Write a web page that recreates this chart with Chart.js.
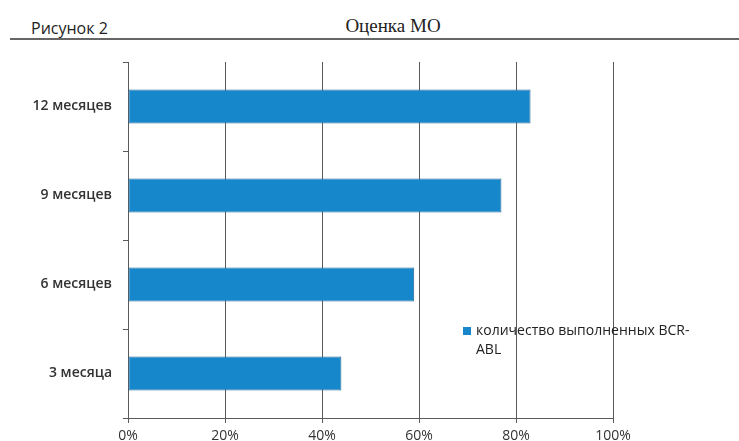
<!DOCTYPE html>
<html lang="ru">
<head>
<meta charset="utf-8">
<title>Оценка МО</title>
<script src="https://cdn.jsdelivr.net/npm/chart.js@4.4.1/dist/chart.umd.min.js"></script>
<style>
  html, body { margin: 0; padding: 0; background: #fff; }
  #wrap { position: relative; width: 739px; height: 441px; overflow: hidden; }
  #fig { position: absolute; left: 31px; top: 17px; font: 16px "Open Sans", sans-serif; color: #222; }
  #title { position: absolute; left: 0; width: 786px; top: 15px; text-align: center;
           font: 19px "Liberation Serif", serif; color: #222; }
  #rule { position: absolute; left: 10px; right: 0; top: 38px; height: 2px; background: #666; }
  canvas { position: absolute; left: 0; top: 0; }
</style>
</head>
<body>
<div id="wrap">
  <div id="fig">Рисунок 2</div>
  <div id="title">Оценка МО</div>
  <div id="rule"></div>
  <canvas id="myChart" width="739" height="441"></canvas>
</div>
<script>
'use strict';

// periods, bottom to top
const periods = ['3 месяца', '6 месяцев', '9 месяцев', '12 месяцев'];
const done = [44, 59, 77, 83];
const seriesName = 'количество выполненных BCR-ABL';
const xTicks = [0, 20, 40, 60, 80, 100];

const barColor = '#1787cc';
const lineColor = '#5a5a5a';

// legend sits inside the plot, wrapped onto two lines
const boxLegend = {
  id: 'boxLegend',
  afterDraw(chart) {
    const ctx = chart.ctx;
    const ds = chart.data.datasets[0];
    const x = 463, y = 331, maxW = 222;
    ctx.save();
    ctx.font = '14px "Open Sans", sans-serif';
    ctx.fillStyle = ds.backgroundColor;
    ctx.fillRect(x, y - 4, 8, 8);
    // break after the hyphen when the line gets too long
    let lines = [ds.label];
    if (ctx.measureText(ds.label).width > maxW) {
      const cut = ds.label.lastIndexOf('-') + 1;
      lines = [ds.label.slice(0, cut), ds.label.slice(cut)];
    }
    ctx.fillStyle = '#222';
    ctx.textBaseline = 'middle';
    lines.forEach((t, i) => ctx.fillText(t, x + 13, y + i * 19));
    ctx.restore();
  }
};

const ctx = document.getElementById('myChart').getContext('2d');
const myChart = new Chart(ctx, {
  type: 'bar',
  data: {
    labels: periods,
    datasets: [{
      label: seriesName,
      data: done,
      backgroundColor: barColor,
      borderColor: '#2a6d9c',
      borderWidth: 1,
      borderSkipped: false,
      barPercentage: 0.38,
      categoryPercentage: 1
    }]
  },
  options: {
    indexAxis: 'y',
    responsive: false,
    animation: false,
    layout: { padding: { top: 62, right: 126, bottom: 0, left: 0 } },
    plugins: {
      legend: { display: false },
      tooltip: { enabled: false }
    },
    scales: {
      x: {
        min: 0,
        max: 100,
        afterBuildTicks(scale) {
          scale.ticks = xTicks.map(v => ({ value: v }));
        },
        afterFit(scale) { scale.height = 23; },
        grid: { color: lineColor, lineWidth: 1, tickLength: 5, drawTicks: true },
        border: { color: lineColor, width: 1 },
        ticks: {
          padding: 5,
          color: '#333',
          font: { family: 'Open Sans', size: 14 },
          callback: v => v + '%'
        }
      },
      y: {
        reverse: true,
        afterFit(scale) { scale.width = 128; },
        grid: { drawOnChartArea: false, color: lineColor, tickLength: 5 },
        border: { color: lineColor, width: 1 },
        ticks: {
          padding: 11,
          color: '#333',
          font: { family: 'Open Sans', size: 14, weight: '600' }
        }
      }
    }
  },
  plugins: [boxLegend]
});
</script>
</body>
</html>
